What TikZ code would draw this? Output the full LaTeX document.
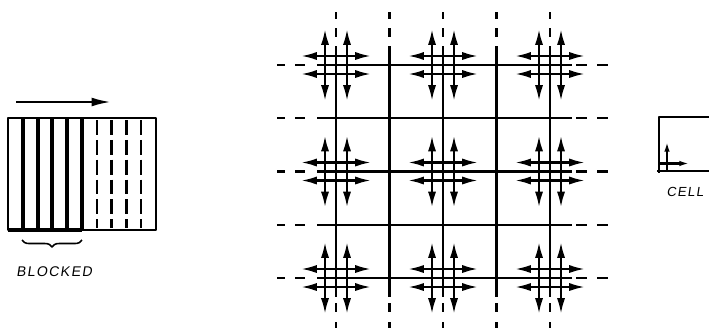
\documentclass[tikz,border=0pt]{standalone}
\usepackage{fontspec}
\newfontfamily\sketchfont[FakeSlant=0.15,LetterSpace=10]{Liberation Sans}
\usetikzlibrary{arrows.meta,decorations.pathreplacing}

\tikzset{
  flow/.style={line width=1.3pt,{Latex[length=9pt,width=4.6pt]}-{Latex[length=9pt,width=4.6pt]}},
  gridline/.style={line width=1.3pt},
  strip/.style={line width=2.3pt},
  openstrip/.style={line width=1.3pt,dash pattern=on 8.5pt off 2.8pt},
  sketchlabel/.style={font=\sketchfont\fontsize{8}{8}\selectfont,inner sep=0pt},
}

\begin{document}
\begin{tikzpicture}[x=0.02cm,y=-0.02cm,line join=round]
        \useasboundingbox (0,0) rectangle (709,328);

        % Canal con franjas bloqueadas
        \draw[line width=1.2pt] (8,118) rectangle (156,230);
        \draw[strip] (8,230) -- (82,230);
        \foreach \x in {22.8,37.6,52.4,67.2,82}
            \draw[strip] (\x,118) -- (\x,230);
        \foreach \x in {96.8,111.6,126.4,141.2}
            \draw[openstrip] (\x,120) -- (\x,228);
        \draw[line width=1.3pt,-{Latex[length=11pt,width=5pt]}] (16,102) -- (111,102);

        % Llave y rotulo
        \coordinate (brace-l) at (22,240);
        \coordinate (brace-r) at (82,240);
        \draw[line width=0.9pt,decorate,decoration={brace,mirror,amplitude=4pt}]
            (brace-l) -- (brace-r);
        \node[sketchlabel,anchor=west] (blocked) at (16,272) {BLOCKED};

        % Malla de celdas
        \foreach \x in {336,389.5,443,496.5,550} {
            \draw[gridline] (\x,46) -- (\x,297);
            \draw[gridline] (\x,12) -- (\x,19) (\x,28) -- (\x,37);
            \draw[gridline] (\x,303) -- (\x,312) (\x,322) -- (\x,328);
        }
        \foreach \y in {65,118.25,171.5,224.75,278} {
            \draw[gridline] (317,\y) -- (572,\y);
            \draw[gridline] (277,\y) -- (285,\y) (295,\y) -- (305,\y);
            \draw[gridline] (576,\y) -- (587,\y) (597,\y) -- (608,\y);
        }

        % Flechas de flujo en cada nodo
        \foreach \cx in {336,443,550}
            \foreach \cy in {65,171.5,278} {
                \draw[flow] (\cx-11,\cy-36) -- (\cx-11,\cy+36);
                \draw[flow] (\cx+11,\cy-36) -- (\cx+11,\cy+36);
                \draw[flow] (\cx-35,\cy-9) -- (\cx+35,\cy-9);
                \draw[flow] (\cx-35,\cy+9) -- (\cx+35,\cy+9);
            }

        % Celda suelta
        \draw[gridline] (709,117.3) -- (659,117.3) -- (659,173);
        \draw[gridline] (657,171) -- (709,171);
        \draw[line width=1.2pt,-{Latex[length=6pt,width=3pt]}] (667,171) -- (667,141);
        \draw[line width=1.2pt,-{Latex[length=6pt,width=3pt]}] (659,163.5) -- (690,163.5);
        \node[sketchlabel,font=\sketchfont\fontsize{7.5}{7.5}\selectfont] (cell) at (685,192) {CELL};
\end{tikzpicture}
\end{document}
